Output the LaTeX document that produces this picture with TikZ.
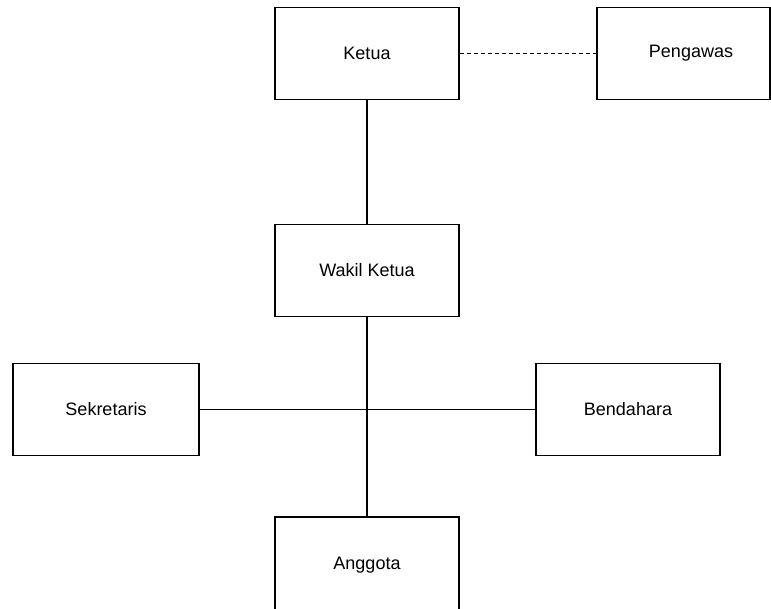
\documentclass[tikz,border=0pt]{standalone}
\usepackage{fontspec}
\setmainfont{Liberation Sans}
\begin{document}
\begin{tikzpicture}[x=1pt,y=-1pt,
  box/.style={draw, line width=1.4pt, minimum width=184pt, minimum height=92pt, inner sep=0pt, font=\fontsize{18}{20}\selectfont},
  conn/.style={line width=1.3pt}]
\useasboundingbox (0,0) rectangle (771,609);
\clip (0,0) rectangle (771,609);
\node[box] (ketua) at (367,53.5) {Ketua};
\node[box, minimum width=173pt] (peng) at (683.5,53.5) {\hspace*{15pt}Pengawas};
\node[box] (wakil) at (367,270.5) {Wakil Ketua};
\node[box, minimum width=186pt] (sek) at (106,409.5) {Sekretaris};
\node[box] (bend) at (628,409.5) {Bendahara};
\node[box, minimum height=96pt] (ang) at (367,565) {Anggota};
\coordinate (mid) at (367,409.5);
\draw[conn] (ketua) -- (wakil);
\draw[conn] (wakil) -- (ang);
\draw[conn] (sek) -- (bend);
\draw[conn, dashed, dash pattern=on 4pt off 3pt] (ketua) -- (peng);
\end{tikzpicture}
\end{document}
